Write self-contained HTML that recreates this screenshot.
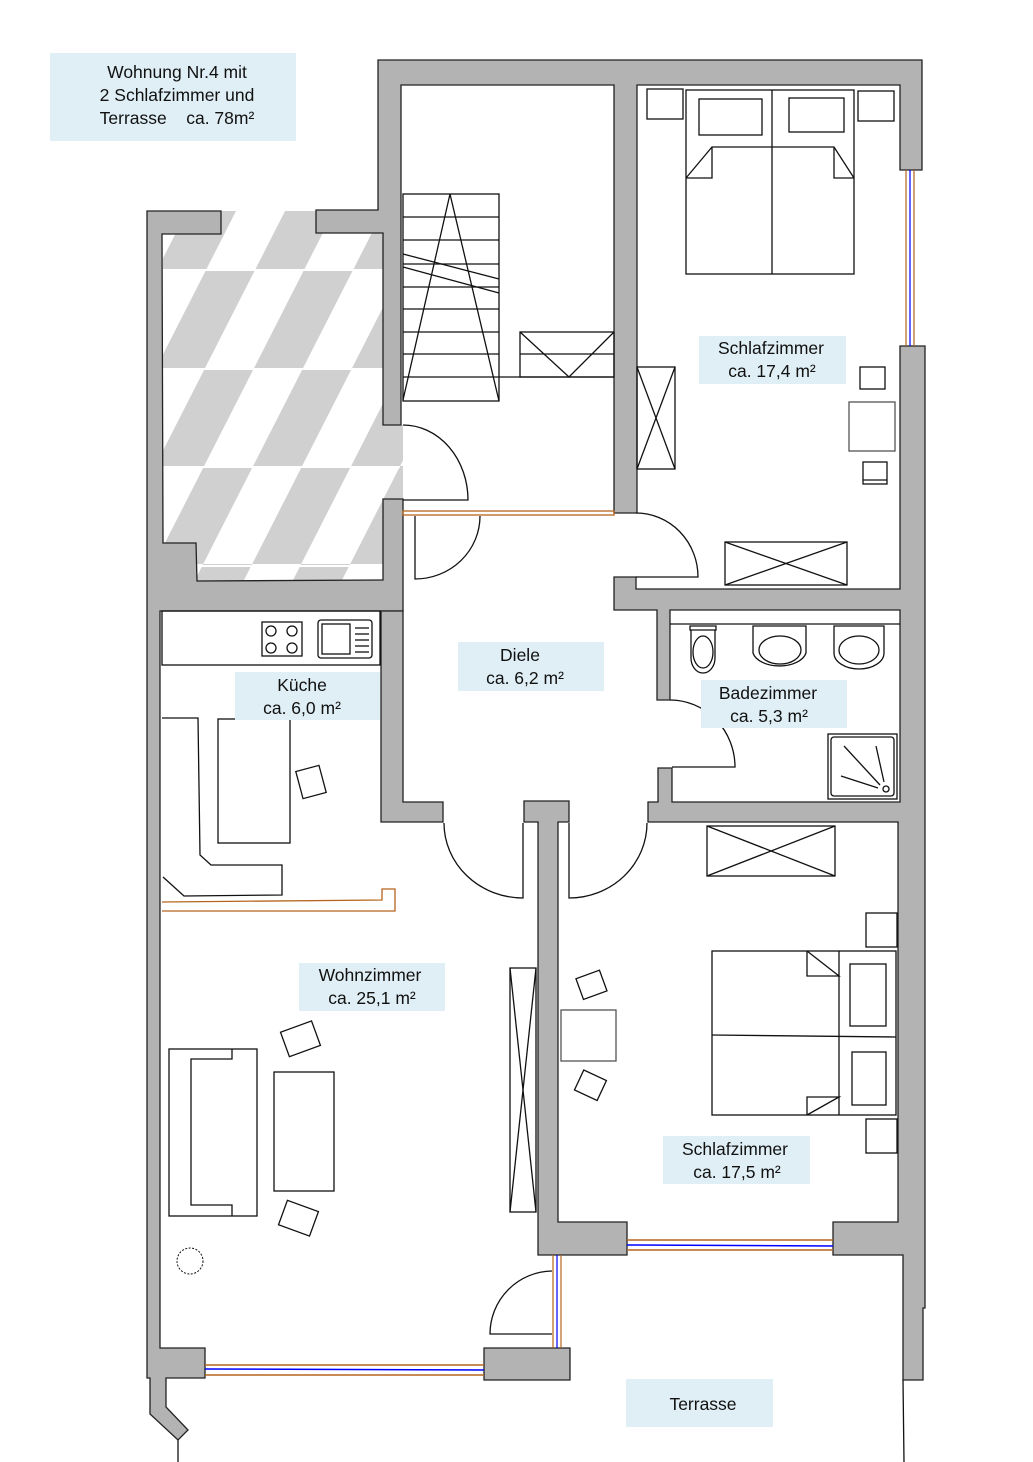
<!DOCTYPE html>
<html><head><meta charset="utf-8"><style>
html,body{margin:0;padding:0;background:#fff;}
svg{display:block;}
text{font-family:"Liberation Sans","DejaVu Sans",sans-serif;font-size:17.5px;fill:#111;}
</style></head><body>
<svg width="1033" height="1462" viewBox="0 0 1033 1462" xmlns="http://www.w3.org/2000/svg">
<defs>
<pattern id="chk" width="98" height="196" patternUnits="userSpaceOnUse" patternTransform="translate(10,270) skewX(-27)">
<rect x="0" y="0" width="49" height="98" fill="#d0d0d0"/>
<rect x="49" y="98" width="49" height="98" fill="#d0d0d0"/>
</pattern>
<clipPath id="terr"><polygon points="163,234 221,234 221,211 316,211 316,233 383,233 383,425 403,425 403,580 197,581 196,543 163,543"/></clipPath>
</defs>
<rect x="163" y="211" width="240" height="372" fill="url(#chk)" clip-path="url(#terr)"/>
<g stroke="#fff" stroke-width="2"><line x1="163" y1="270" x2="400" y2="270"/><line x1="163" y1="369" x2="400" y2="369"/><line x1="163" y1="467" x2="400" y2="467"/><line x1="163" y1="566" x2="400" y2="566"/></g>

<g fill="#b3b3b3" stroke="#222" stroke-width="1.3" stroke-linejoin="miter">
<polygon points="147,211 221,211 221,234 162,234 163,543 196,543 197,581 383,580 383,499 403,499 403,611 160,611 160,1348 205,1348 205,1378 166,1378 166,1407 188,1430 178,1440 150,1414 150,1378 147,1378"/>
<polygon points="381,611 403,611 403,802 443,802 443,822 381,822"/>
<polygon points="316,210 378,210 378,60 922,60 922,170 900,170 900,85 637,85 637,513 614,513 614,85 401,85 401,425 383,425 383,233 316,233"/>
<polygon points="614,577 636,577 636,589 900,589 900,346 925,346 925,1308 923,1308 923,1380 903,1380 903,1255 833,1255 833,1222 898,1222 898,822 648,822 648,802 658,802 658,768 672,768 672,802 900,802 900,610 670,610 670,700 657,700 657,610 614,610"/>
<polygon points="524,801 569,801 569,822 558,822 558,1222 627,1222 627,1255 538,1255 538,822 524,822"/>
<polygon points="484,1348 570,1348 570,1380 484,1380"/>
</g>

<g fill="none">
<line x1="205" y1="1365" x2="484" y2="1365" stroke="#b5651d" stroke-width="1.5"/>
<line x1="205" y1="1369" x2="484" y2="1370" stroke="#0000ff" stroke-width="1.5"/>
<line x1="205" y1="1375" x2="484" y2="1375" stroke="#b5651d" stroke-width="1.5"/>
<line x1="627" y1="1240" x2="833" y2="1240" stroke="#b5651d" stroke-width="1.5"/>
<line x1="627" y1="1245" x2="833" y2="1246" stroke="#0000ff" stroke-width="1.5"/>
<line x1="627" y1="1250" x2="833" y2="1250" stroke="#b5651d" stroke-width="1.5"/>
<line x1="553" y1="1255" x2="553" y2="1348" stroke="#b5651d" stroke-width="1.2"/>
<line x1="557" y1="1255" x2="557" y2="1348" stroke="#0000ff" stroke-width="1.2"/>
<line x1="561" y1="1255" x2="561" y2="1348" stroke="#b5651d" stroke-width="1.2"/>
<line x1="906" y1="170" x2="906" y2="346" stroke="#b5651d" stroke-width="1.2"/>
<line x1="910" y1="170" x2="910" y2="346" stroke="#0000ff" stroke-width="1.2"/>
<line x1="914" y1="170" x2="914" y2="346" stroke="#b5651d" stroke-width="1.2"/>
<rect x="403" y="511" width="211" height="4" stroke="#b5651d" stroke-width="1.3"/>
<polyline points="162,902 382,900 382,889 395,889 395,911 162,911" stroke="#b5651d" stroke-width="1.3"/>
</g>

<g fill="none" stroke="#111" stroke-width="1.3">
<line x1="178" y1="1440" x2="178" y2="1462"/>
<line x1="903" y1="1380" x2="904" y2="1462"/>
<rect x="403" y="194" width="96" height="207"/>
<line x1="403" y1="217" x2="499" y2="217"/><line x1="403" y1="240" x2="499" y2="240"/>
<line x1="403" y1="264" x2="499" y2="264"/><line x1="403" y1="287" x2="499" y2="287"/>
<line x1="403" y1="309" x2="499" y2="309"/><line x1="403" y1="332" x2="499" y2="332"/>
<line x1="403" y1="354" x2="499" y2="354"/><line x1="403" y1="377" x2="614" y2="377"/>
<line x1="403" y1="254" x2="499" y2="279"/><line x1="403" y1="267" x2="499" y2="293"/>
<polyline points="403,400 450,194 499,401"/>
<rect x="520" y="332" width="94" height="45"/>
<line x1="520" y1="354" x2="614" y2="354"/>
<polyline points="520,332 569,377 614,332"/>
<path d="M403,425 A65,75 0 0 1 468,500 L403,500"/>
<path d="M415,516 L415,579 A65,63 0 0 0 480,516"/>
<path d="M636,513 A62,64 0 0 1 698,577 L636,577"/>
<path d="M670,700 A65,67 0 0 1 735,767 L672,767"/>
<path d="M523,823 L523,898 A79,75 0 0 1 444,823"/>
<path d="M569,823 L569,898 A78,75 0 0 0 647,823"/>
<path d="M552,1271 A63,63 0 0 0 490,1334 L552,1334"/>
<rect x="647" y="89" width="36" height="30"/><rect x="858" y="91" width="36" height="30"/>
<rect x="686" y="90" width="168" height="184"/><line x1="772" y1="90" x2="772" y2="274"/>
<rect x="699" y="99" width="63" height="36"/><rect x="789" y="98" width="55" height="34"/>
<polyline points="686,178 712,147 834,147 854,178"/>
<polyline points="712,147 712,178 686,178"/><polyline points="834,147 834,178 854,178"/>
<rect x="637" y="367" width="38" height="102"/><polyline points="637,367 675,469"/><polyline points="675,367 637,469"/>
<rect x="725" y="542" width="122" height="43"/><line x1="725" y1="542" x2="847" y2="585"/><line x1="847" y1="542" x2="725" y2="585"/>
<rect x="860" y="367" width="25" height="22"/><rect x="849" y="402" width="46" height="49" stroke="#555"/>
<rect x="863" y="462" width="24" height="22"/><line x1="863" y1="480" x2="887" y2="480"/>
<line x1="670" y1="624" x2="900" y2="624"/>
<path d="M690,626 h26 v4 h-26 z M691,630 h24 v28 a12,15 0 0 1 -24,0 z"/>
<ellipse cx="703" cy="652" rx="10" ry="16"/>
<path d="M753,626 h53 v27 a27,16 0 0 1 -53,0 z"/><ellipse cx="780" cy="650" rx="21" ry="14"/>
<path d="M834,626 h50 v27 a25,16 0 0 1 -50,0 z"/><ellipse cx="859" cy="650" rx="20" ry="14"/>
<rect x="828" y="734" width="69" height="65"/><rect x="831" y="737" width="63" height="59" rx="3"/>
<line x1="844" y1="746" x2="880" y2="785"/><line x1="841" y1="776" x2="878" y2="788"/><line x1="876" y1="746" x2="884" y2="782"/>
<circle cx="886" cy="789" r="3"/>
<rect x="162" y="611" width="218" height="54"/>
<rect x="262" y="622" width="40" height="34"/><circle cx="271" cy="631" r="5"/><circle cx="292" cy="631" r="5"/><circle cx="271" cy="648" r="5"/><circle cx="292" cy="648" r="5"/>
<rect x="318" y="620" width="54" height="38" rx="3"/><rect x="322" y="624" width="28" height="30"/>
<line x1="355" y1="628" x2="369" y2="628"/><line x1="355" y1="634" x2="369" y2="634"/><line x1="355" y1="640" x2="369" y2="640"/><line x1="355" y1="646" x2="369" y2="646"/><line x1="355" y1="652" x2="369" y2="652"/>
<polyline points="162,718 198,718 200,855 211,865 282,865 282,895 184,896 163,877"/>
<rect x="218" y="719" width="72" height="124"/>
<rect x="299" y="768" width="24" height="28" transform="rotate(-15 311 782)"/>
<rect x="169" y="1049" width="88" height="167"/><polyline points="232,1049 232,1059 191,1059 191,1205 232,1205 232,1216"/>
<rect x="274" y="1072" width="60" height="119"/>
<rect x="284" y="1026" width="33" height="26" transform="rotate(-20 300 1039)"/>
<rect x="282" y="1205" width="33" height="26" transform="rotate(20 298 1218)"/>
<circle cx="190" cy="1261" r="13" stroke-dasharray="2,1.5" stroke-width="1"/>
<rect x="510" y="968" width="26" height="244"/><line x1="510" y1="968" x2="536" y2="1212"/><line x1="536" y1="968" x2="510" y2="1212"/>
<rect x="707" y="826" width="128" height="50"/><line x1="707" y1="826" x2="835" y2="876"/><line x1="835" y1="826" x2="707" y2="876"/>
<rect x="866" y="913" width="31" height="34"/><rect x="866" y="1119" width="31" height="34"/>
<rect x="712" y="951" width="184" height="164"/><line x1="712" y1="1035" x2="896" y2="1037"/><line x1="839" y1="951" x2="839" y2="1115"/>
<rect x="850" y="964" width="36" height="62"/><rect x="852" y="1052" width="34" height="53"/>
<polyline points="807,951 807,976 839,976 807,951"/><polyline points="807,1115 807,1097 839,1097 807,1115"/>
<rect x="561" y="1010" width="55" height="51" stroke="#555"/>
<rect x="579" y="974" width="25" height="22" transform="rotate(-20 591 985)"/>
<rect x="578" y="1074" width="25" height="22" transform="rotate(25 590 1085)"/>
</g>

<g fill="#e0eff5">
<rect x="50" y="53" width="246" height="88"/>
<rect x="699" y="336" width="147" height="48"/>
<rect x="458" y="642" width="146" height="49"/>
<rect x="235" y="672" width="145" height="48"/>
<rect x="701" y="680" width="146" height="48"/>
<rect x="299" y="963" width="146" height="48"/>
<rect x="663" y="1136" width="147" height="48"/>
<rect x="626" y="1379" width="147" height="48"/>
</g>
<g text-anchor="middle">
<text x="177" y="78">Wohnung Nr.4 mit</text>
<text x="177" y="101">2 Schlafzimmer und</text>
<text x="177" y="124" xml:space="preserve">Terrasse    ca. 78m²</text>
<text x="771" y="354">Schlafzimmer</text><text x="772" y="377">ca. 17,4 m²</text>
<text x="520" y="661">Diele</text><text x="525" y="684">ca. 6,2 m²</text>
<text x="302" y="691">Küche</text><text x="302" y="714">ca. 6,0 m²</text>
<text x="768" y="699">Badezimmer</text><text x="769" y="722">ca. 5,3 m²</text>
<text x="370" y="981">Wohnzimmer</text><text x="372" y="1004">ca. 25,1 m²</text>
<text x="735" y="1155">Schlafzimmer</text><text x="737" y="1178">ca. 17,5 m²</text>
<text x="703" y="1410">Terrasse</text>
</g>
</svg>
</body></html>
